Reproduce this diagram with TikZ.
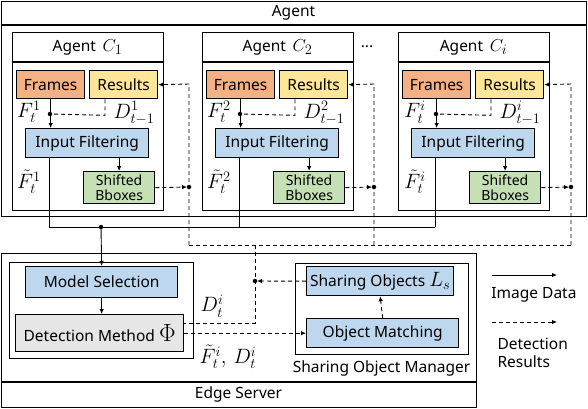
\documentclass[tikz,border=0pt]{standalone}
\usepackage{fontspec}
\setmainfont{Noto Sans}
\usetikzlibrary{arrows.meta}
\definecolor{cframe}{HTML}{F4B183}
\definecolor{cres}{HTML}{FFE699}
\definecolor{cblue}{HTML}{BDD7EE}
\definecolor{cgreen}{HTML}{C5E0B4}
\definecolor{cgray}{HTML}{E7E6E6}
\tikzset{
  bx/.style={draw, line width=1.3pt, inner sep=0pt, anchor=north west, font=\fontsize{15.5}{17}\selectfont},
  frame/.style={draw, line width=1.3pt, inner sep=0pt, anchor=north west},
  conn/.style={line width=0.9pt},
  dconn/.style={line width=0.9pt, dash pattern=on 4pt off 3pt},
  tip/.style={-{Latex[length=5pt,width=4.5pt]}},
  dotc/.style={circle, fill=black, inner sep=0pt, minimum size=4.5pt},
  lbl/.style={font=\fontsize{15.5}{18}\selectfont},
  mlbl/.style={inner sep=0pt, font=\fontsize{19.5}{20}\selectfont},
}
\begin{document}
\begin{tikzpicture}[x=1pt,y=-1pt]
\useasboundingbox (0,0) rectangle (588,408);
% outer agent box
\node[frame, minimum width=585, minimum height=215] (agent) at (1,1) {};
\draw[line width=1.3pt] (1,25) -- (586,25);
\node[lbl] (agenttitle) at (293.5,13) {Agent};
% agents
\foreach \L/\k/\dx in {12/1/177, 202/2/172, 398/i/173}{
  \node[frame, minimum width=151, minimum height=178] (ag\k) at (\L,32) {};
  \draw[line width=1.3pt] (\L,62) -- ++(151,0);
  \node[lbl] (agt\k) at (\L+75.5,47) {Agent \,\fontsize{19}{20}\selectfont$C_{\k}$};
  \node[bx, fill=cframe, minimum width=68, minimum height=28] (fr\k) at (\L+4,70) {Frames};
  \node[bx, fill=cres, minimum width=68, minimum height=28] (rs\k) at (\L+77,70) {Results};
  \node[bx, fill=cblue, minimum width=123, minimum height=29] (if\k) at (\L+13,128) {Input Filtering};
  \node[bx, fill=cgreen, minimum width=71, minimum height=32, align=center, font=\fontsize{14}{14.5}\selectfont] (sb\k) at (\L+71,171) {Shifted\\Bboxes};
  \node[mlbl] (lf\k) at (\L+17,112) {$F_t^{\k}$};
  \node[mlbl] (ld\k) at (\L+122,113) {$D_{t-1}^{\k}$};
  \node[mlbl] (lft\k) at (\L+17,182) {$\tilde{F}_t^{\k}$};
  \coordinate (jd\k) at (\L+38,114);
  \node[dotc] (dj\k) at (jd\k) {};
  \draw[conn, tip] (fr\k.south) -- (fr\k.south |- if\k.north);
  \draw[dconn] (rs\k.south west) ++(16,0) -- ++(0,16) -- (dj\k.center);
  \draw[conn, tip] (sb\k.north |- if\k.south) -- (sb\k.north);
  \coordinate (vr\k) at (\L+\dx,187);
  \node[dotc] (dv\k) at (vr\k) {};
  \draw[dconn, tip, shorten >=2pt] (sb\k.east) -- (dv\k.center);
  \coordinate (bot\k) at (\L+\dx,245);
  \draw[dconn, tip] (bot\k) -- (\L+\dx,84) -- (rs\k.east);
  \coordinate (sbus\k) at (\L+37,227);
  \draw[conn] (if\k.south west) ++(24,0) -- (sbus\k);
}
\node[lbl] (dots) at (367,47) {...};
% buses
\draw[conn] (sbus1) -- (sbusi);
\draw[dconn] (bot1) -- (boti);
% edge server
\node[frame, minimum width=475, minimum height=154] (edge) at (1,253) {};
\draw[line width=1.3pt] (1,382) -- (476,382);
\node[lbl] (edgetitle) at (238.5,394.5) {Edge Server};
\node[frame, minimum width=184, minimum height=96] (grp) at (9,262) {};
\node[bx, fill=cblue, minimum width=152, minimum height=31] (ms) at (25,266) {Model Selection};
\node[bx, fill=cgray, minimum width=168, minimum height=37] (dm) at (15,314) {Detection Method \fontsize{23}{24}\selectfont$\Phi$};
\node[frame, minimum width=173, minimum height=91] (som) at (295,263) {};
\node[lbl] (somt) at (381.5,368) {Sharing Object Manager};
\node[bx, fill=cblue, minimum width=147, minimum height=29] (so) at (306,266) {Sharing Objects \fontsize{19.5}{20}\selectfont$L_s$};
\node[bx, fill=cblue, minimum width=152, minimum height=29] (om) at (306,318) {Object Matching};
\node[mlbl] (ldt) at (212,306) {$D_t^i$};
\node[mlbl] (lfd) at (228,357) {$\tilde{F}_t^i,\, D_t^i$};
\node[dotc] (busdot) at (101,227) {};
\draw[conn, tip] (busdot.center) -- (ms.north);
\draw[conn, tip] (ms.south) -- (ms.south |- dm.north);
\coordinate (dn) at (255,245);
\node[dotc] (sdot) at (255,281) {};
\draw[dconn] (dn) -- (255,323) -- (dm.east |- 0,323);
\draw[dconn, tip, shorten >=2pt] (so.west) -- (sdot.center);
\draw[dconn, tip] (dm.east) -- (om.west);
\draw[dconn, tip] (om.north) -- (so.south);
% legend
\coordinate (la1) at (492,275);
\coordinate (la2) at (557,275);
\draw[conn, tip] (la1) -- (la2);
\node[lbl] (limg) at (534,295) {Image Data};
\coordinate (lb1) at (492,322);
\coordinate (lb2) at (557,322);
\draw[dconn, tip] (lb1) -- (lb2);
\node[lbl, align=left, anchor=north west] (ldet) at (494,335) {Detection\\Results};
\end{tikzpicture}
\end{document}
